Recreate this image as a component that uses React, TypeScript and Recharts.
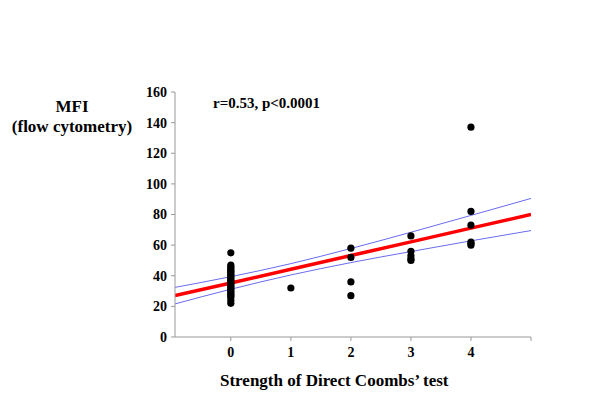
import { ComposedChart, Scatter, Line, XAxis, YAxis } from "recharts";

// Direct Coombs' test strength (x) vs MFI (y)
const dctZero = [22, 24, 26, 27, 28, 29, 30, 31, 32, 33, 34, 35, 36, 37, 38, 39, 40, 41, 42, 43, 44, 45, 46, 47, 55];
const dctOne = [32];
const dctTwo = [58, 52, 36, 27];
const dctThree = [66, 56, 53, 51, 50];
const dctFour = [137, 82, 73, 62, 61, 60];

// regression line and 95% band, read at these x positions
const fitX = [-0.93, 0, 1, 2, 3, 4, 5];
const fitMid = [27, 35.3, 44.2, 53.2, 62.1, 71.1, 80];
const fitUpper = [32.4, 39.4, 47.9, 57.8, 68.4, 79.4, 90.5];
const fitLower = [21.6, 31.2, 40.5, 48.6, 55.8, 62.8, 69.5];

const yTicks = [0, 20, 40, 60, 80, 100, 120, 140, 160];
const xTicks = [0, 1, 2, 3, 4, 5];

const points = [
  ...dctZero.map((v) => ({ x: 0, y: v })),
  ...dctOne.map((v) => ({ x: 1, y: v })),
  ...dctTwo.map((v) => ({ x: 2, y: v })),
  ...dctThree.map((v) => ({ x: 3, y: v })),
  ...dctFour.map((v) => ({ x: 4, y: v })),
];
const fitData = fitX.map((x, i) => ({ x, mid: fitMid[i], up: fitUpper[i], lo: fitLower[i] }));

const serif = "'Liberation Serif', 'DejaVu Serif', serif";
const tickStyle = { fontFamily: serif, fontWeight: 700, fontSize: 14, fill: "#000" };

const Dot = (props: any) => <circle cx={props.cx} cy={props.cy} r={3.6} fill="#000" />;

const App = () => {
  return (
    <div style={{ position: "relative", width: 592, height: 411, fontFamily: serif, fontWeight: 700, color: "#000" }}>
      <ComposedChart width={592} height={411} margin={{ top: 84, right: 69, left: 127, bottom: 52 }}>
        <XAxis
          type="number"
          dataKey="x"
          domain={[-0.93, 5]}
          ticks={xTicks}
          allowDataOverflow
          tickFormatter={(v: number) => (v === 5 ? "" : String(v))}
          height={30}
          stroke="#999"
          tickSize={4}
          tick={tickStyle}
          tickMargin={6}
        />
        <YAxis
          type="number"
          domain={[0, 160]}
          ticks={yTicks}
          width={40}
          stroke="#999"
          tickSize={4}
          tick={tickStyle}
          tickMargin={4}
        />
        <Line data={fitData} dataKey="up" stroke="#6b6bf0" strokeWidth={1} dot={false} isAnimationActive={false} type="monotone" />
        <Line data={fitData} dataKey="lo" stroke="#6b6bf0" strokeWidth={1} dot={false} isAnimationActive={false} type="monotone" />
        <Line data={fitData} dataKey="mid" stroke="#ff0000" strokeWidth={3.5} dot={false} isAnimationActive={false} type="linear" />
        <Scatter data={points} dataKey="y" shape={Dot} isAnimationActive={false} />
      </ComposedChart>
      <div style={{ position: "absolute", left: 0, width: 128, top: 89, textAlign: "center", fontSize: 17, lineHeight: "20px" }}>
        MFI
        <br />
        (flow cytometry)
      </div>
      <div style={{ position: "absolute", left: 205, top: 87, fontSize: 15 }}>r=0.53, p&lt;0.0001</div>
      <div style={{ position: "absolute", left: 212, top: 363, fontSize: 17 }}>Strength of Direct Coombs’ test</div>
    </div>
  );
};

export default App;
